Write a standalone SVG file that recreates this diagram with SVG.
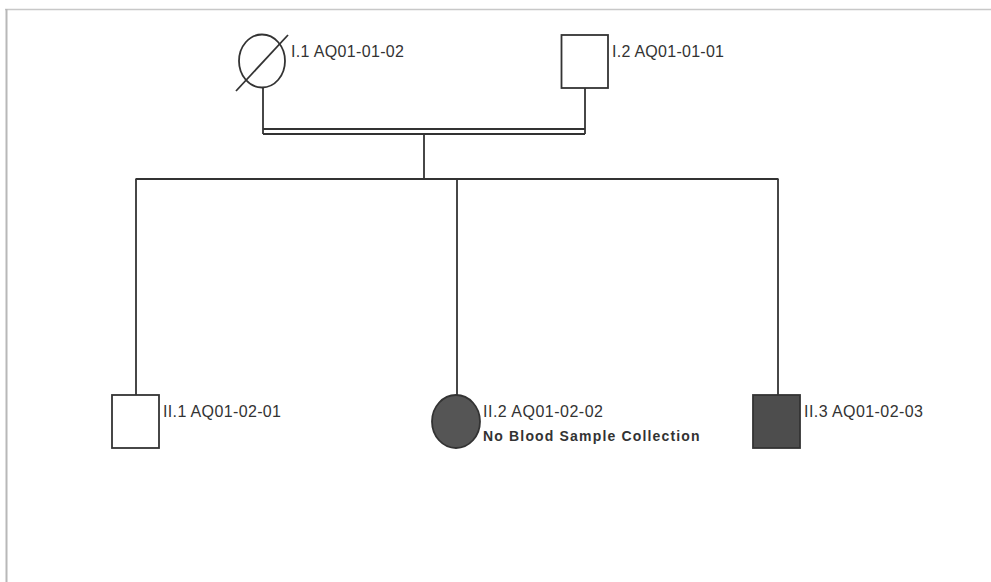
<svg xmlns="http://www.w3.org/2000/svg" width="991" height="582" viewBox="0 0 991 582">
<style>
.ln{stroke:#333;stroke-width:1.8;fill:none}
.sh{stroke:#333;stroke-width:1.8}
.lb{font-family:"Liberation Sans",Arial,sans-serif;font-size:16px;fill:#333}
.nb{font-family:"Liberation Sans",Arial,sans-serif;font-size:14px;font-weight:bold;fill:#333;letter-spacing:0.4px}
</style>
<rect width="991" height="582" fill="#fff"/>
<g id="frame">
<line x1="5" y1="9.5" x2="991" y2="9.5" stroke="#c8c8c8" stroke-width="1.5"/>
<line x1="6.5" y1="9" x2="6.5" y2="582" stroke="#b8b8b8" stroke-width="2"/>
</g>
<g id="connectors">
<line class="ln" x1="263" y1="88" x2="263" y2="134"/>
<line class="ln" x1="585" y1="88" x2="585" y2="134"/>
<line class="ln" x1="263" y1="129" x2="585" y2="129"/>
<line class="ln" x1="263" y1="134" x2="585" y2="134"/>
<line class="ln" x1="424" y1="134" x2="424" y2="179"/>
<line class="ln" x1="135.5" y1="179" x2="778.5" y2="179"/>
<line class="ln" x1="136" y1="179" x2="136" y2="395"/>
<line class="ln" x1="457" y1="179" x2="457" y2="395"/>
<line class="ln" x1="778" y1="179" x2="778" y2="395"/>
</g>
<g id="I1">
<ellipse class="sh" cx="262" cy="61" rx="23" ry="26.5" fill="#fff"/>
<line class="ln" x1="236" y1="91" x2="288" y2="35"/>
<text class="lb" x="291" y="57" textLength="113">I.1 AQ01-01-02</text>
</g>
<g id="I2">
<rect class="sh" x="561.5" y="35" width="46.5" height="53" fill="#fff"/>
<text class="lb" x="612" y="57" textLength="112">I.2 AQ01-01-01</text>
</g>
<g id="II1">
<rect class="sh" x="112" y="395" width="47" height="53" fill="#fff"/>
<text class="lb" x="163" y="417" textLength="118">II.1 AQ01-02-01</text>
</g>
<g id="II2">
<ellipse class="sh" cx="456" cy="421.5" rx="24" ry="26.5" fill="#555"/>
<text class="lb" x="483" y="417" textLength="120">II.2 AQ01-02-02</text>
<text class="nb" x="483" y="441" textLength="217">No Blood Sample Collection</text>
</g>
<g id="II3">
<rect class="sh" x="753" y="395" width="47" height="53" fill="#4d4d4d"/>
<text class="lb" x="804" y="417" textLength="119">II.3 AQ01-02-03</text>
</g>
</svg>
